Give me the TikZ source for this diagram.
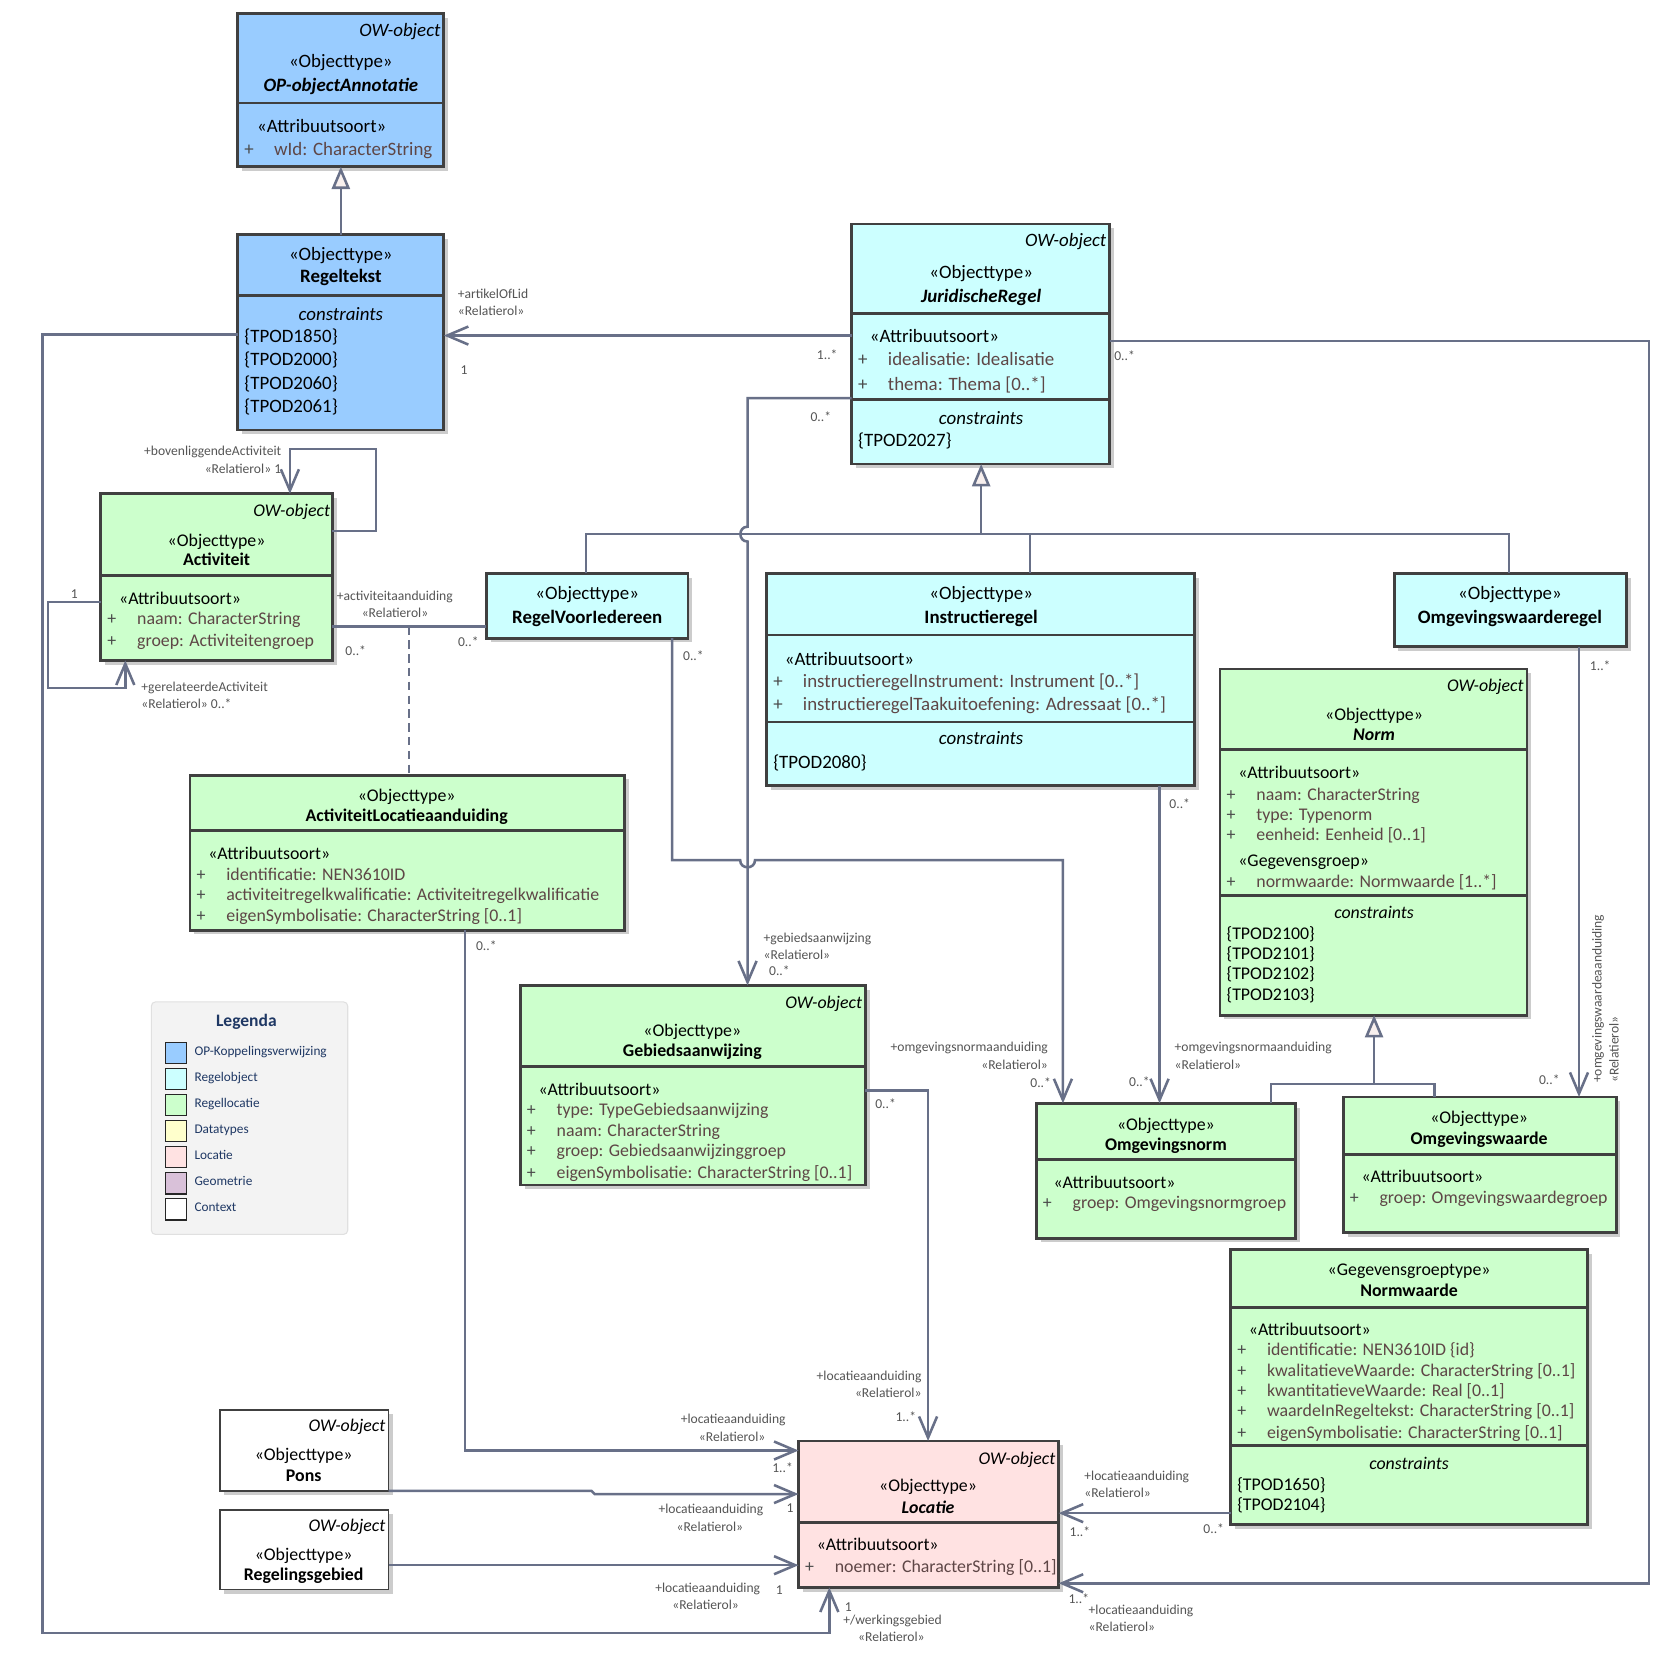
\documentclass[tikz,border=0pt]{standalone}
\usepackage{fontspec}
\setmainfont{Carlito}
\usetikzlibrary{arrows.meta,shadows}
\definecolor{cBlue}{HTML}{99CCFF}
\definecolor{cCyan}{HTML}{CCFFFF}
\definecolor{cGreen}{HTML}{CCFFCC}
\definecolor{cYellow}{HTML}{FFFFCC}
\definecolor{cPink}{HTML}{FFE2E2}
\definecolor{cLilac}{HTML}{D9C1D9}
\definecolor{cBorder}{HTML}{404040}
\definecolor{cLine}{HTML}{687088}
\definecolor{cAttr}{HTML}{5E4646}
\definecolor{cPlus}{HTML}{4A4A4A}
\definecolor{cLbl}{HTML}{555555}
\definecolor{cNavy}{HTML}{1F3864}
\definecolor{cTri}{HTML}{F8F0EE}
\definecolor{cLegBg}{HTML}{F3F3F3}
\definecolor{cLegBd}{HTML}{E0E0E0}
\newcommand\ubox[7][2.6pt]{\node[cls, line width=#1, fill=#3, minimum width=#6pt, minimum height=#7pt] (#2) at (#4,#5) {};}
\newcommand\udiv[2]{\draw[divl] (#1.west |- 0,#2) -- (#1.east |- 0,#2);}
\newcommand\uattr[4]{\node[plusst] (#1p) at (#2+6,#3) {+}; \node[attrst] (#1) at (#2+34,#3) {#4};}
\newcommand\ufs{17.8}
\tikzset{
  cls/.style={rectangle, draw=cBorder, inner sep=0pt, outer sep=0pt, anchor=north west,
    drop shadow={shadow xshift=4pt, shadow yshift=-4pt, fill=black!20, opacity=1}},
  divl/.style={draw=cBorder, line width=2.6pt},
  tx/.style={inner sep=0pt, font=\fontsize{\ufs}{20}\selectfont, text height=15pt, text depth=2.2pt},
  owst/.style={tx, anchor=east, font=\fontsize{\ufs}{20}\selectfont\itshape},
  nmst/.style={tx, font=\fontsize{\ufs}{20}\selectfont\bfseries},
  nmist/.style={tx, font=\fontsize{\ufs}{20}\selectfont\bfseries\itshape},
  ctst/.style={tx, font=\fontsize{\ufs}{20}\selectfont\itshape},
  stw/.style={tx, anchor=west},
  plusst/.style={tx, anchor=west, text=cPlus},
  attrst/.style={tx, anchor=west, text=cAttr},
  lb/.style={inner sep=0pt, font=\fontsize{12.8}{15}\selectfont, text=cLbl, text height=12pt, text depth=1.5pt},
  assoc/.style={draw=cLine, line width=2.4pt},
  ua/.style={assoc, -{Straight Barb[length=20pt, width=17pt]}},
  gen/.style={assoc, -{Triangle[length=21pt, width=17pt, fill=cTri]}},
  sw/.style={rectangle, draw=black!85, line width=1.4pt, minimum width=20pt, minimum height=20pt, anchor=north west, inner sep=0pt},
  lgl/.style={inner sep=0pt, anchor=west, font=\fontsize{12.5}{15}\selectfont, text=cNavy, text height=9pt, text depth=2.5pt}
}
\begin{document}
\begin{tikzpicture}[x=1pt,y=-1pt]
\useasboundingbox (0,0) rectangle (1568,1559);
\fill[white] (0,0) rectangle (1568,1559);

% ---------- boxes ----------
\ubox{op}{cBlue}{224}{13}{194}{144}
\ubox{rt}{cBlue}{224}{221}{194}{184}
\ubox{jr}{cCyan}{802}{211}{243}{226}
\ubox{act}{cGreen}{95}{465}{218}{157}
\ubox{rvi}{cCyan}{458}{540}{190}{61}
\ubox{ir}{cCyan}{722}{540}{403}{200}
\ubox{owr}{cCyan}{1313}{540}{219}{69}
\ubox{norm}{cGreen}{1149}{630}{289}{326}
\ubox{ala}{cGreen}{179}{730}{409}{146}
\ubox{gba}{cGreen}{490}{928}{325}{188}
\ubox{on}{cGreen}{976}{1039}{244}{127}
\ubox{ow}{cGreen}{1265}{1033}{257}{128}
\ubox{nw}{cGreen}{1159}{1177}{336}{259}
\ubox{loc}{cPink}{752}{1357}{245}{138}
\ubox[1.6pt]{pons}{white}{207}{1328}{159}{76}
\ubox[1.6pt]{rg}{white}{207}{1422}{159}{75}

\udiv{op}{97}
\udiv{rt}{278}
\udiv{jr}{295}\udiv{jr}{376}
\udiv{act}{542}
\udiv{ir}{598}\udiv{ir}{680}
\udiv{norm}{706}\udiv{norm}{843}
\udiv{ala}{782}
\udiv{gba}{1004}
\udiv{on}{1092}
\udiv{ow}{1087}
\udiv{nw}{1231}\udiv{nw}{1361}
\udiv{loc}{1434}

% ---------- texts (blue / cyan: larger type) ----------
\renewcommand\ufs{17.8}
\node[owst] (op-ow) at (415,28) {OW-object};
\node[tx] (op-s) at (321,57) {«Objecttype»};
\node[nmist] (op-n) at (321,80) {OP-objectAnnotatie};
\node[stw] (op-a) at (242,118) {«Attribuutsoort»};
\uattr{op-1}{224}{140}{wId: CharacterString}

\node[tx] (rt-s) at (321,239) {«Objecttype»};
\node[nmst] (rt-n) at (321,260) {Regeltekst};
\node[ctst] (rt-c) at (321,295) {constraints};
\node[stw] (rt-1) at (230,316) {\{TPOD1850\}};
\node[stw] (rt-2) at (230,338) {\{TPOD2000\}};
\node[stw] (rt-3) at (230,360) {\{TPOD2060\}};
\node[stw] (rt-4) at (230,382) {\{TPOD2061\}};

\node[owst] (jr-ow) at (1042,226) {OW-object};
\node[tx] (jr-s) at (924,256) {«Objecttype»};
\node[nmist] (jr-n) at (924,278) {JuridischeRegel};
\node[stw] (jr-a) at (819,316) {«Attribuutsoort»};
\uattr{jr-1}{802}{338}{idealisatie: Idealisatie}
\uattr{jr-2}{802}{361}{thema: Thema [0..*]}
\node[ctst] (jr-c) at (924,393) {constraints};
\node[stw] (jr-t) at (808,414) {\{TPOD2027\}};

\node[tx] (rvi-s) at (553,558) {«Objecttype»};
\node[nmst] (rvi-n) at (553,581) {RegelVoorIedereen};

\node[tx] (ir-s) at (924,558) {«Objecttype»};
\node[nmst] (ir-n) at (924,581) {Instructieregel};
\node[stw] (ir-a) at (739,620) {«Attribuutsoort»};
\uattr{ir-1}{722}{641}{instructieregelInstrument: Instrument [0..*]}
\uattr{ir-2}{722}{663}{instructieregelTaakuitoefening: Adressaat [0..*]}
\node[ctst] (ir-c) at (924,695) {constraints};
\node[stw] (ir-t) at (728,717) {\{TPOD2080\}};

\node[tx] (owr-s) at (1422,558) {«Objecttype»};
\node[nmst] (owr-n) at (1422,581) {Omgevingswaarderegel};

% ---------- texts (green / pink / white: smaller type) ----------
\renewcommand\ufs{16.8}
\node[owst] (act-ow) at (311,480) {OW-object};
\node[tx] (act-s) at (204,508) {«Objecttype»};
\node[nmst] (act-n) at (204,526) {Activiteit};
\node[stw] (act-a) at (112,563) {«Attribuutsoort»};
\uattr{act-1}{95}{582}{naam: CharacterString}
\uattr{act-2}{95}{602}{groep: Activiteitengroep}

\node[owst] (nm-ow) at (1435,645) {OW-object};
\node[tx] (nm-s) at (1294,672) {«Objecttype»};
\node[nmist] (nm-n) at (1294,691) {Norm};
\node[stw] (nm-a) at (1166,727) {«Attribuutsoort»};
\uattr{nm-1}{1149}{747}{naam: CharacterString}
\uattr{nm-2}{1149}{766}{type: Typenorm}
\uattr{nm-3}{1149}{785}{eenheid: Eenheid [0..1]}
\node[stw] (nm-g) at (1166,810) {«Gegevensgroep»};
\uattr{nm-4}{1149}{829}{normwaarde: Normwaarde [1..*]}
\node[ctst] (nm-c) at (1294,859) {constraints};
\node[stw] (nm-t1) at (1155,878) {\{TPOD2100\}};
\node[stw] (nm-t2) at (1155,897) {\{TPOD2101\}};
\node[stw] (nm-t3) at (1155,916) {\{TPOD2102\}};
\node[stw] (nm-t4) at (1155,936) {\{TPOD2103\}};

\node[tx] (ala-s) at (383,748) {«Objecttype»};
\node[nmst] (ala-n) at (383,767) {ActiviteitLocatieaanduiding};
\node[stw] (ala-a) at (196,803) {«Attribuutsoort»};
\uattr{ala-1}{179}{823}{identificatie: NEN3610ID}
\uattr{ala-2}{179}{842}{activiteitregelkwalificatie: Activiteitregelkwalificatie}
\uattr{ala-3}{179}{861}{eigenSymbolisatie: CharacterString [0..1]}

\node[owst] (gba-ow) at (812,943) {OW-object};
\node[tx] (gba-s) at (652,970) {«Objecttype»};
\node[nmst] (gba-n) at (652,989) {Gebiedsaanwijzing};
\node[stw] (gba-a) at (507,1025) {«Attribuutsoort»};
\uattr{gba-1}{490}{1044}{type: TypeGebiedsaanwijzing}
\uattr{gba-2}{490}{1064}{naam: CharacterString}
\uattr{gba-3}{490}{1083}{groep: Gebiedsaanwijzinggroep}
\uattr{gba-4}{490}{1103}{eigenSymbolisatie: CharacterString [0..1]}

\node[tx] (on-s) at (1098,1058) {«Objecttype»};
\node[nmst] (on-n) at (1098,1077) {Omgevingsnorm};
\node[stw] (on-a) at (992,1113) {«Attribuutsoort»};
\uattr{on-1}{976}{1132}{groep: Omgevingsnormgroep}

\node[tx] (ow-s) at (1393,1052) {«Objecttype»};
\node[nmst] (ow-n) at (1393,1071) {Omgevingswaarde};
\node[stw] (ow-a) at (1282,1107) {«Attribuutsoort»};
\uattr{ow-1}{1265}{1127}{groep: Omgevingswaardegroep}

\node[tx] (nw-s) at (1327,1195) {«Gegevensgroeptype»};
\node[nmst] (nw-n) at (1327,1215) {Normwaarde};
\node[stw] (nw-a) at (1176,1251) {«Attribuutsoort»};
\uattr{nw-1}{1159}{1270}{identificatie: NEN3610ID \{id\}}
\uattr{nw-2}{1159}{1290}{kwalitatieveWaarde: CharacterString [0..1]}
\uattr{nw-3}{1159}{1309}{kwantitatieveWaarde: Real [0..1]}
\uattr{nw-4}{1159}{1328}{waardeInRegeltekst: CharacterString [0..1]}
\uattr{nw-5}{1159}{1348}{eigenSymbolisatie: CharacterString [0..1]}
\node[ctst] (nw-c) at (1327,1377) {constraints};
\node[stw] (nw-t1) at (1165,1397) {\{TPOD1650\}};
\node[stw] (nw-t2) at (1165,1416) {\{TPOD2104\}};

\node[owst] (loc-ow) at (994,1373) {OW-object};
\node[tx] (loc-s) at (874,1398) {«Objecttype»};
\node[nmist] (loc-n) at (874,1419) {Locatie};
\node[stw] (loc-a) at (769,1454) {«Attribuutsoort»};
\uattr{loc-1}{752}{1474}{noemer: CharacterString [0..1]}

\node[owst] (pons-ow) at (363,1342) {OW-object};
\node[tx] (pons-s) at (286,1369) {«Objecttype»};
\node[nmst] (pons-n) at (286,1389) {Pons};

\node[owst] (rg-ow) at (363,1436) {OW-object};
\node[tx] (rg-s) at (286,1463) {«Objecttype»};
\node[nmst] (rg-n) at (286,1482) {Regelingsgebied};

% ---------- legend ----------
\node[rectangle, draw=cLegBd, fill=cLegBg, rounded corners=4pt, line width=1pt, minimum width=185pt, minimum height=219pt, anchor=north west, inner sep=0pt] (leg) at (142,943) {};
\node[inner sep=0pt, font=\fontsize{16.5}{18}\selectfont\bfseries, text=cNavy] (leg-t) at (232,962) {Legenda};
\node[sw, fill=cBlue] (sw1) at (155,981) {};
\node[sw, fill=cCyan] (sw2) at (155,1005.5) {};
\node[sw, fill=cGreen] (sw3) at (155,1030) {};
\node[sw, fill=cYellow] (sw4) at (155,1054.5) {};
\node[sw, fill=cPink] (sw5) at (155,1079) {};
\node[sw, fill=cLilac] (sw6) at (155,1103.5) {};
\node[sw, fill=white] (sw7) at (155,1128) {};
\node[lgl] (lg1) at (183,991) {OP-Koppelingsverwijzing};
\node[lgl] (lg2) at (183,1015.5) {Regelobject};
\node[lgl] (lg3) at (183,1040) {Regellocatie};
\node[lgl] (lg4) at (183,1064.5) {Datatypes};
\node[lgl] (lg5) at (183,1089) {Locatie};
\node[lgl] (lg6) at (183,1113.5) {Geometrie};
\node[lgl] (lg7) at (183,1138) {Context};

% ---------- connectors ----------
\draw[gen] (rt.north) -- (op.south);
\draw[ua] (jr.west |- 0,316) -- (rt.east |- 0,316);
\draw[ua] (jr.east |- 0,321) -- (1553,321) -- (1553,1491) -- (loc.east |- 0,1491);
\draw[ua] (rt.west |- 0,315) -- (40,315) -- (40,1538) -- (781,1538) -- (loc.south -| 781,0);
\draw[ua] (act.east |- 0,500) -- (354,500) -- (354,423) -- (273,423) -- (act.north -| 273,0);
\draw[ua] (act.west |- 0,567) -- (45,567) -- (45,648) -- (118,648) -- (act.south -| 118,0);
\draw[assoc] (act.east |- 0,590) -- (rvi.west |- 0,590);
\draw[draw=cLine, line width=1.3pt, dash pattern=on 8pt off 5pt] (385,590) -- (ala.north -| 385,0);
% generalisation tree JuridischeRegel
\draw[assoc] (rvi.north -| 552,0) -- (552,503) -- (1421,503) -- (owr.north -| 1421,0);
\draw[assoc] (ir.north -| 970,0) -- (970,503);
\draw[gen] (924,503) -- (jr.south -| 924,0);
% JuridischeRegel -> Gebiedsaanwijzing (with hop)
\draw[ua] (jr.west |- 0,375) -- (704,375) -- (704,496) .. controls (695,496) and (695,510) .. (704,510) -- (gba.north -| 704,0);
% RegelVoorIedereen -> Omgevingsnorm (with hop)
\draw[ua] (rvi.south -| 633,0) -- (633,810) -- (697,810) .. controls (697,819) and (711,819) .. (711,810) -- (1001,810) -- (on.north -| 1001,0);
\draw[ua] (ir.south -| 1092,0) -- (on.north -| 1092,0);
% Norm generalisation
\draw[assoc] (on.north -| 1197,0) -- (1197,1021) -- (1351,1021) -- (ow.north -| 1351,0);
\draw[gen] (1294,1021) -- (norm.south -| 1294,0);
\draw[ua] (owr.south -| 1487,0) -- (ow.north -| 1487,0);
% to Locatie
\draw[ua] (ala.south -| 438,0) -- (438,1366) -- (loc.west |- 0,1366);
\draw[ua] (pons.south east) -- (557,1404) -- (560,1407) -- (loc.west |- 0,1407);
\draw[ua] (rg.east |- 0,1474) -- (loc.west |- 0,1474);
\draw[ua] (gba.east |- 0,1027) -- (874,1027) -- (loc.north -| 874,0);
\draw[ua] (nw.west |- 0,1425) -- (loc.east |- 0,1425);

% ---------- connector labels ----------
\node[lb, anchor=west] (l1) at (431,276) {+artikelOfLid};
\node[lb, anchor=west] (l2) at (431,292) {«Relatierol»};
\node[lb] (l3) at (437,347) {1};
\node[lb] (l4) at (779,333) {1..*};
\node[lb] (l5) at (1059,334) {0..*};
\node[lb] (l6) at (773,392) {0..*};
\node[lb, anchor=east] (l7) at (265,424) {+bovenliggendeActiviteit};
\node[lb, anchor=east] (l8) at (265,441) {«Relatierol» 1};
\node[lb] (l9) at (70,558) {1};
\node[lb, anchor=west] (l10) at (133,646) {+gerelateerdeActiviteit};
\node[lb, anchor=west] (l11) at (133,662) {«Relatierol» 0..*};
\node[lb, anchor=west] (l12) at (317,560) {+activiteitaanduiding};
\node[lb] (l13) at (372,576) {«Relatierol»};
\node[lb] (l14) at (335,612) {0..*};
\node[lb] (l15) at (441,604) {0..*};
\node[lb] (l16) at (653,617) {0..*};
\node[lb] (l17) at (1507,626) {1..*};
\node[lb] (l18) at (1111,756) {0..*};
\node[lb] (l19) at (458,890) {0..*};
\node[lb, anchor=west] (l20) at (719,882) {+gebiedsaanwijzing};
\node[lb, anchor=west] (l21) at (719,898) {«Relatierol»};
\node[lb] (l22) at (734,913) {0..*};
\node[lb, anchor=east] (l23) at (987,985) {+omgevingsnormaanduiding};
\node[lb, anchor=east] (l24) at (987,1002) {«Relatierol»};
\node[lb] (l25) at (980,1019) {0..*};
\node[lb, anchor=west] (l26) at (1106,985) {+omgevingsnormaanduiding};
\node[lb, anchor=west] (l27) at (1106,1002) {«Relatierol»};
\node[lb] (l28) at (1073,1018) {0..*};
\node[lb] (l29) at (1459,1016) {0..*};
\node[lb, anchor=west, rotate=90, text height=9pt, text depth=2.5pt] (l30) at (1505,1020) {+omgevingswaardeaanduiding};
\node[lb, anchor=west, rotate=90, text height=9pt, text depth=2.5pt] (l31) at (1521,1020) {«Relatierol»};
\node[lb] (l32) at (834,1039) {0..*};
\node[lb, anchor=east] (l33) at (868,1295) {+locatieaanduiding};
\node[lb, anchor=east] (l34) at (868,1311) {«Relatierol»};
\node[lb] (l35) at (853,1333) {1..*};
\node[lb, anchor=east] (l36) at (740,1335) {+locatieaanduiding};
\node[lb, anchor=east] (l37) at (721,1352) {«Relatierol»};
\node[lb] (l38) at (737,1381) {1..*};
\node[lb, anchor=east] (l39) at (719,1420) {+locatieaanduiding};
\node[lb, anchor=east] (l40) at (700,1437) {«Relatierol»};
\node[lb] (l41) at (744,1419) {1};
\node[lb, anchor=east] (l42) at (716,1494) {+locatieaanduiding};
\node[lb, anchor=east] (l43) at (696,1510) {«Relatierol»};
\node[lb] (l44) at (734,1496) {1};
\node[lb, anchor=west] (l45) at (1021,1389) {+locatieaanduiding};
\node[lb, anchor=west] (l46) at (1021,1405) {«Relatierol»};
\node[lb] (l47) at (1017,1442) {1..*};
\node[lb] (l48) at (1143,1439) {0..*};
\node[lb] (l49) at (1016,1505) {1..*};
\node[lb, anchor=west] (l50) at (1025,1515) {+locatieaanduiding};
\node[lb, anchor=west] (l51) at (1025,1531) {«Relatierol»};
\node[lb] (l52) at (799,1512) {1};
\node[lb, anchor=west] (l53) at (794,1525) {+/werkingsgebied};
\node[lb, anchor=west] (l54) at (808,1541) {«Relatierol»};
\end{tikzpicture}
\end{document}
